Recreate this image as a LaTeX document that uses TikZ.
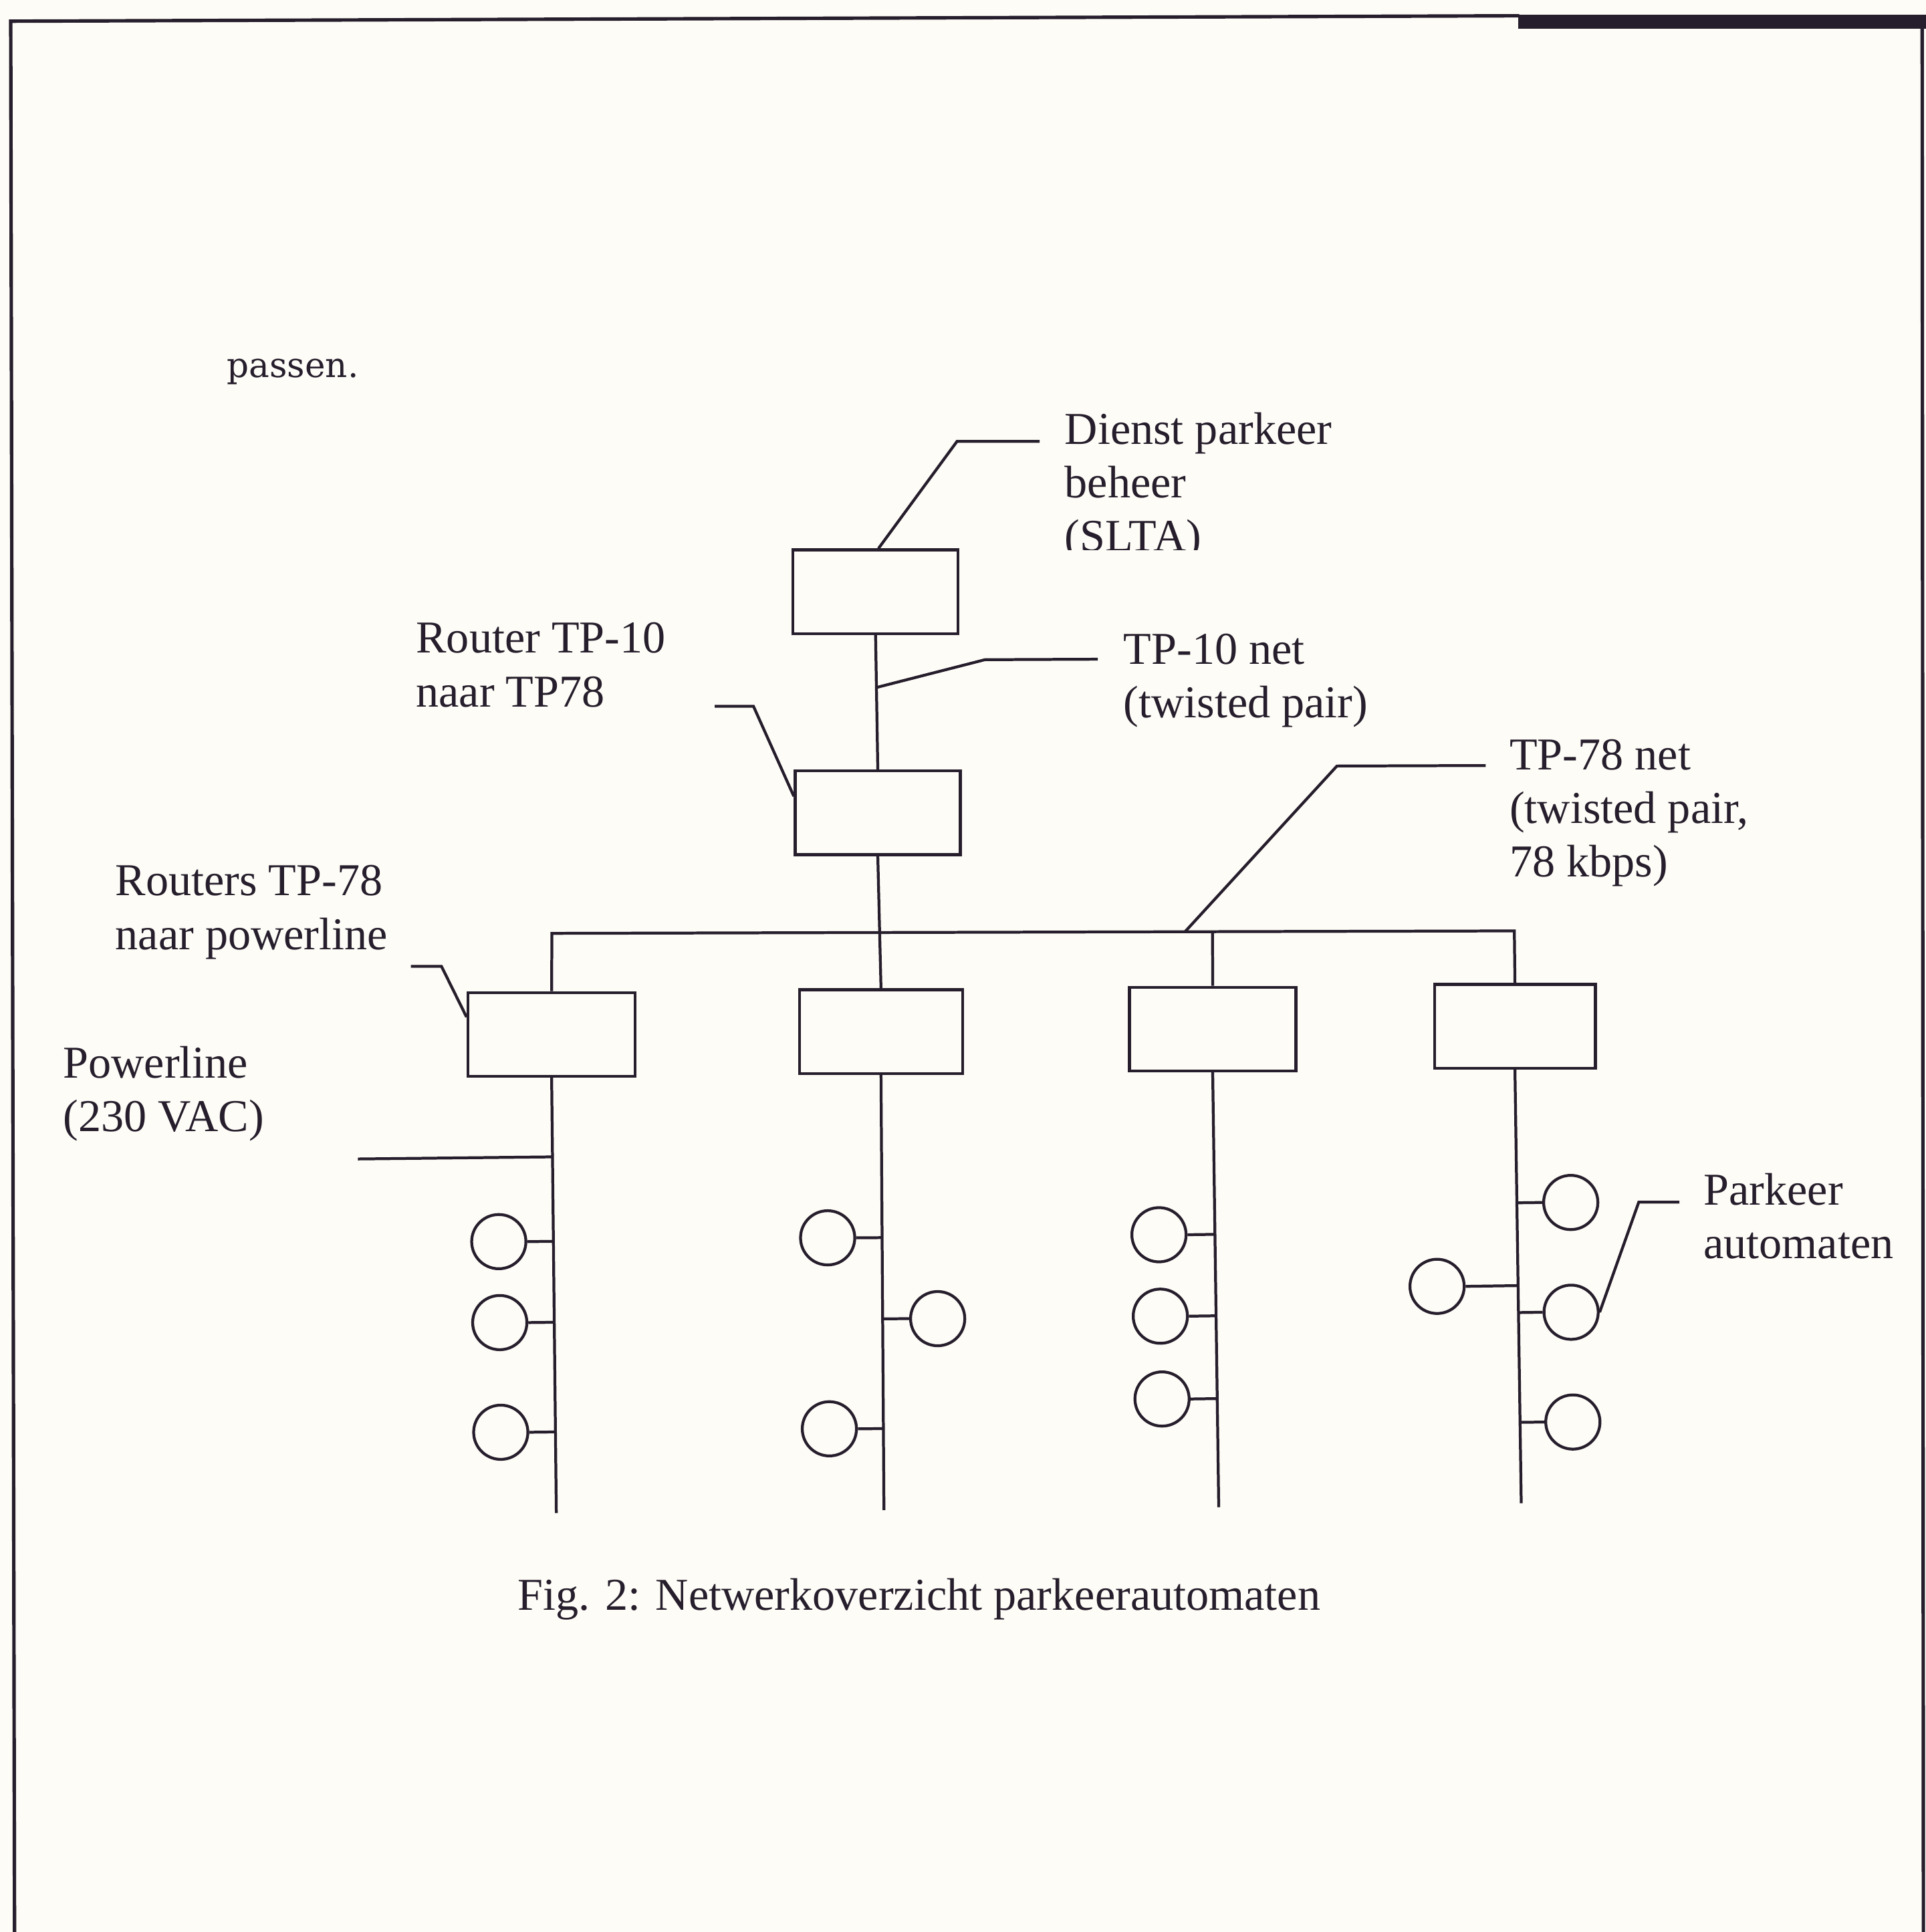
\documentclass[tikz,border=0pt]{standalone}
\usepackage{fontspec}
\setmainfont{Liberation Serif}
\newfontfamily\passfont{DejaVu Serif}
\usepackage{graphicx}
\usetikzlibrary{calc}
\definecolor{ink}{RGB}{38,30,44}
\definecolor{paper}{RGB}{253,252,246}
\begin{document}
\begin{tikzpicture}[x=1pt,y=-1pt,
  ln/.style={draw=ink, line width=2.3pt},
  netbox/.style={draw=ink, line width=2.3pt, minimum width=134pt, minimum height=68pt, inner sep=0pt},
  dev/.style={draw=ink, line width=2.3pt, circle, minimum size=44pt, inner sep=0pt},
  lbl/.style={font=\fontsize{37}{43.5}\selectfont, align=left, anchor=base west, inner sep=0pt, text=ink}]
\useasboundingbox (0,0) rectangle (1563,1568);
\fill[paper] (0,0) rectangle (1563,1568);
% frame
\draw[ink, line width=2.8pt] (11.8,1568) -- (8.7,17.2) -- (1233,12.8);
\fill[ink] (1232,12.2) rectangle (1563,23.2);
\draw[ink, line width=2.8pt] (1560,23) -- (1561,1568);

% text above
\node[anchor=base west, inner sep=0pt, text=ink] (tPass) at (184,306.5) {\passfont\fontsize{28}{33}\selectfont passen.};

% boxes
\node[netbox] (S) at (710.6,480.3) {};
\node[netbox] (R) at (712.4,659.6) {};
\node[netbox, minimum width=135.8pt] (A) at (447.7,839.5) {};
\node[netbox, minimum width=132.2pt] (B) at (715,837.3) {};
\node[netbox, minimum width=135pt] (C) at (984.2,835.2) {};
\node[netbox, minimum width=130.5pt] (D) at (1229.5,832.9) {};

% trunk
\draw[ln] (S.south) -- (R.north);
\draw[ln] (R.south) -- (B.north);
% bus
\coordinate (busA) at (447.9,757.5);
\coordinate (busD) at (1229,755.5);
\draw[ln] (A.north) -- (busA) -- (busD) -- (D.north);
\draw[ln] ($(busA)!(C.north)!(busD)$) -- (C.north);

% drop lines
\coordinate (aBot) at (451.5,1228);
\coordinate (bBot) at (717.4,1225.6);
\coordinate (cBot) at (989.1,1223.2);
\coordinate (dBot) at (1234.6,1220);
\draw[ln] (A.south) -- (aBot);
\draw[ln] (B.south) -- (bBot);
\draw[ln] (C.south) -- (cBot);
\draw[ln] (D.south) -- (dBot);

% devices
\node[dev] (a1) at (404.8,1007.7) {};
\node[dev] (a2) at (405.6,1073.4) {};
\node[dev] (a3) at (406.4,1162.4) {};
\node[dev] (b1) at (671.7,1004.6) {};
\node[dev] (b2) at (761,1070.2) {};
\node[dev] (b3) at (673.1,1159.6) {};
\node[dev] (c1) at (940.6,1002.1) {};
\node[dev] (c2) at (941.7,1068.2) {};
\node[dev] (c3) at (943.1,1135.4) {};
\node[dev] (d1) at (1274.8,975.9) {};
\node[dev] (d2) at (1166.3,1044) {};
\node[dev] (d3) at (1275.1,1065) {};
\node[dev] (d4) at (1276.5,1154.1) {};

\foreach \n in {a1,a2,a3}{\draw[ln] (\n.east) -- ($(A.south)!(\n.east)!(aBot)$);}
\foreach \n in {b1,b3}{\draw[ln] (\n.east) -- ($(B.south)!(\n.east)!(bBot)$);}
\draw[ln] (b2.west) -- ($(B.south)!(b2.west)!(bBot)$);
\foreach \n in {c1,c2,c3}{\draw[ln] (\n.east) -- ($(C.south)!(\n.east)!(cBot)$);}
\draw[ln] (d2.east) -- ($(D.south)!(d2.east)!(dBot)$);
\foreach \n in {d1,d3,d4}{\draw[ln] (\n.west) -- ($(D.south)!(\n.west)!(dBot)$);}

% powerline feed
\coordinate (pw) at (290.5,940.6);
\draw[ln] (pw) -- ($(A.south)!(pw)!(aBot)$);

% leaders
\coordinate (kS) at (776.7,358.2);
\coordinate (eS) at (843.7,358.2);
\draw[ln] ($(S.north west)!0.517!(S.north east)$) -- (kS) -- (eS);

\coordinate (k10) at (799.4,535.4);
\coordinate (e10) at (891,535);
\draw[ln] ($(S.south)!0.39!(R.north)$) -- (k10) -- (e10);

\coordinate (rt0) at (580,573.2);
\coordinate (rt1) at (611.5,573.2);
\draw[ln] (rt0) -- (rt1) -- ($(R.north west)!0.31!(R.south west)$);

\coordinate (k78) at (1085,621.7);
\coordinate (e78) at (1205.7,621.3);
\draw[ln] ($(busA)!0.6578!(busD)$) -- (k78) -- (e78);

\coordinate (rp0) at (333.4,784.3);
\coordinate (rp1) at (358.3,784.3);
\draw[ln] (rp0) -- (rp1) -- ($(A.north west)!0.3!(A.south west)$);

\coordinate (kP) at (1330,975.6);
\coordinate (eP) at (1363,975.6);
\draw[ln] (d3.east) -- (kP) -- (eP);

% labels (base anchor = baseline of last line)
\begin{scope}
\clip (850,300) rectangle (1250,446.5);
\node[lbl] (tSLTA) at (864,447.5) {Dienst parkeer\\beheer\\(SLTA)};
\end{scope}
\node[lbl] (tTP10) at (911.7,582.5) {TP-10 net\\(twisted pair)};
\node[lbl] (tRouter) at (337.5,573.5) {Router TP-10\\naar TP78};
\node[lbl] (tTP78) at (1225,711.8) {TP-78 net\\(twisted pair,\\78 kbps)};
\node[lbl] (tRouters) at (93.5,770.5) {Routers TP-78\\naar powerline};
\node[lbl] (tPower) at (51.2,918.5) {Powerline\\(230 VAC)};
\node[lbl] (tPark) at (1382.5,1021.2) {Parkeer\\automaten};
\node[lbl] (tCap) at (420,1307) {Fig. 2: Netwerkoverzicht parkeerautomaten};
\end{tikzpicture}
\end{document}
